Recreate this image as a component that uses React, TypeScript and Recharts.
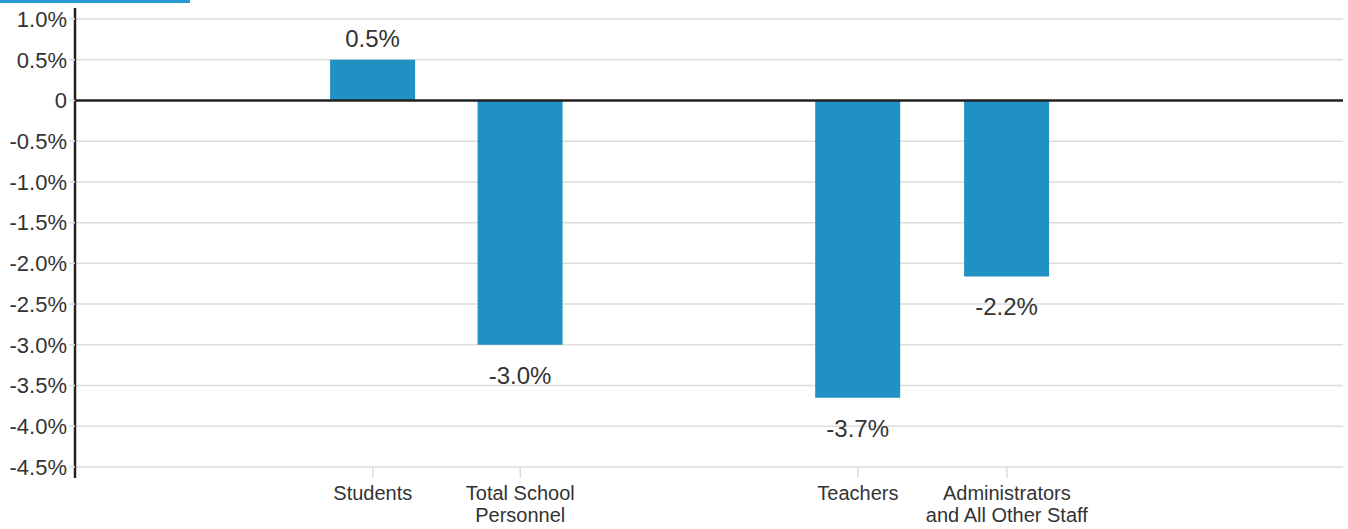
import { Bar, BarChart, CartesianGrid, LabelList, ReferenceLine, XAxis, YAxis } from 'recharts'

const categories = ['Students', 'Total School Personnel', 'Teachers', 'Administrators and All Other Staff']
const tickLines = [['Students'], ['Total School', 'Personnel'], ['Teachers'], ['Administrators', 'and All Other Staff']]
const xPositions = [2.02, 3.02, 5.31, 6.32]
const changes = [0.5, -3.0, -3.65, -2.16]
const valueLabels = ['0.5%', '-3.0%', '-3.7%', '-2.2%']
const yTicks = [1.0, 0.5, 0, -0.5, -1.0, -1.5, -2.0, -2.5, -3.0, -3.5, -4.0, -4.5]

const FONT = '"Liberation Sans", Arial, sans-serif'
const TEXT = '#333'

const data = categories.map((name, i) => ({
  name,
  x: xPositions[i],
  value: changes[i],
  label: valueLabels[i],
}))

function formatY(v: number): string {
  if (v === 0) return '0'
  return `${v.toFixed(1)}%`
}

function XTick(props: any) {
  const { x, y, payload, index } = props
  const i = xPositions.indexOf(payload.value)
  const lines = tickLines[i >= 0 ? i : index] || []
  const top = y - 8
  return (
    <g>
      <line x1={x} x2={x} y1={top - 11} y2={top} stroke="#ddd" strokeWidth={1.5} />
      <text x={x} y={top + 22} textAnchor="middle" fill={TEXT} fontSize={20} fontFamily={FONT}>
        {lines.map((line, k) => (
          <tspan key={k} x={x} dy={k === 0 ? 0 : 22}>{line}</tspan>
        ))}
      </text>
    </g>
  )
}

function ValueLabel(props: any) {
  const { x, y, width, height, index } = props
  const top = Math.min(y, y + height)
  const bottom = Math.max(y, y + height)
  const v = changes[index]
  const ty = v >= 0 ? top - 13 : bottom + 39
  return (
    <text x={x + width / 2} y={ty} textAnchor="middle" fill={TEXT} fontSize={24} fontFamily={FONT}>
      {valueLabels[index]}
    </text>
  )
}

export default function App() {
  return (
    <div style={{ position: 'fixed', left: 0, top: 0, width: 1348, height: 529, background: '#fff' }}>
      <BarChart
        width={1348}
        height={529}
        data={data}
        margin={{ top: 8, right: 5, left: 0, bottom: 0 }}
      >
        <CartesianGrid vertical={false} stroke="#ddd" strokeWidth={1.5} horizontalValues={yTicks} />
        <XAxis
          dataKey="x"
          type="number"
          domain={[0, 8.6]}
          ticks={xPositions}
          axisLine={false}
          tickLine={false}
          tick={<XTick />}
          interval={0}
          height={51}
        />
        <YAxis
          type="number"
          domain={[-4.635, 1.135]}
          ticks={yTicks}
          tickFormatter={formatY}
          width={75}
          axisLine={{ stroke: '#222', strokeWidth: 2.5 }}
          tickLine={{ stroke: '#ddd', strokeWidth: 1.5 }}
          tickSize={6}
          tick={{ fill: TEXT, fontSize: 22, fontFamily: FONT }}
          interval={0}
        />
        <ReferenceLine y={0} stroke="#222" strokeWidth={2.5} />
        <Bar dataKey="value" fill="#2190c2" barSize={85} isAnimationActive={false}>
          <LabelList dataKey="label" content={<ValueLabel />} />
        </Bar>
      </BarChart>
      <div style={{ position: 'absolute', left: 0, top: 0, width: 190, height: 3, background: '#2a9ad6', zIndex: 5 }} />
    </div>
  )
}
